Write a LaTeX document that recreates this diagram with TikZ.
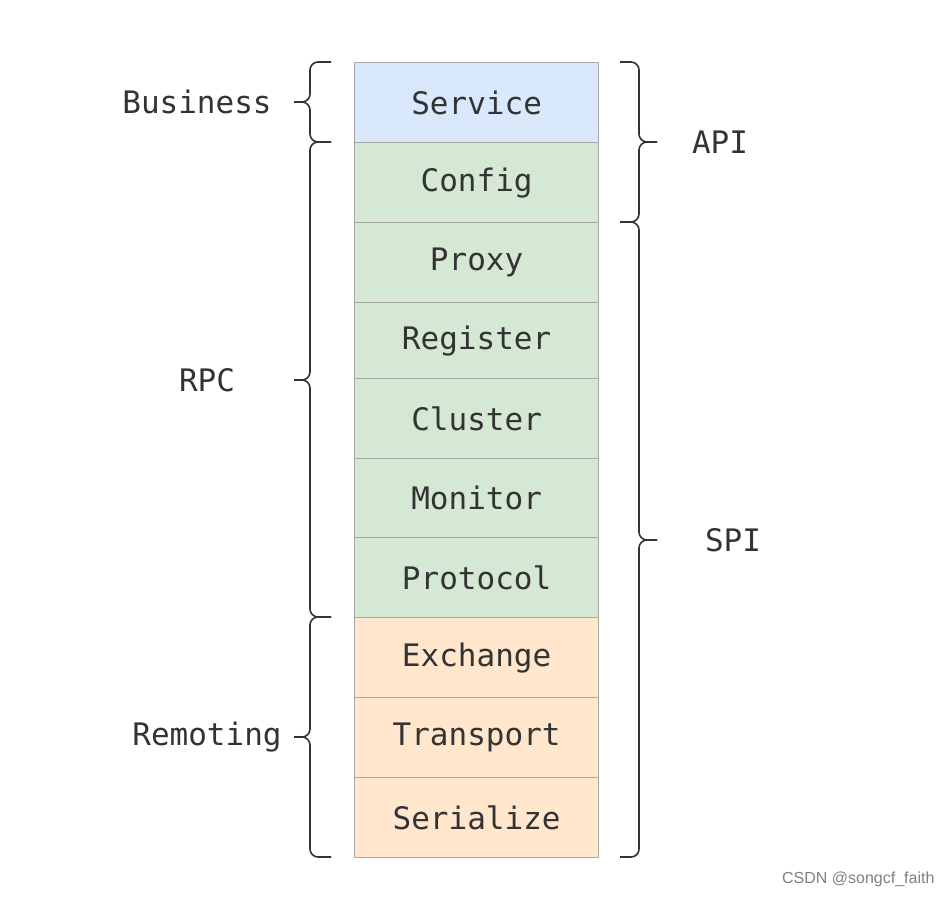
\documentclass[tikz,border=0pt]{standalone}
\usepackage{fontspec}
\setmonofont{DejaVu Sans Mono}
\setsansfont{Liberation Sans}
\definecolor{txt}{HTML}{333333}
\definecolor{bluefill}{HTML}{DAE8FC}
\definecolor{greenfill}{HTML}{D5E8D4}
\definecolor{orangefill}{HTML}{FFE6CC}
\definecolor{edge}{HTML}{A8A8A8}
\tikzset{
  layer/.style={draw=edge, line width=1.2pt, text=txt, font=\ttfamily\fontsize{31}{31}\selectfont,
    minimum width=244pt, inner sep=0pt, anchor=north west},
  grp/.style={text=txt, font=\ttfamily\fontsize{31}{31}\selectfont},
  brc/.style={draw=txt, line width=1.6pt, rounded corners=8pt},
}
% curly brace with square-ish ends: ends at x=#1, spine at x=#2, tip at x=#3,
% running from y=#4 to y=#5 with its point at y=#6
\newcommand{\bracket}[6]{%
  \draw[brc] (#1,#4) -- (#2,#4) -- (#2,#6) -- (#3,#6);
  \draw[brc] (#1,#5) -- (#2,#5) -- (#2,#6) -- (#3,#6);
}
\begin{document}
\begin{tikzpicture}[x=1pt,y=-1pt]
\useasboundingbox (0,0) rectangle (952,898);
% protocol stack, top to bottom
\node[layer, fill=bluefill,   minimum height=80pt] (service)   at (354,62)  {Service};
\node[layer, fill=greenfill,  minimum height=80pt] (config)    at (354,142) {Config};
\node[layer, fill=greenfill,  minimum height=80pt] (proxy)     at (354,222) {Proxy};
\node[layer, fill=greenfill,  minimum height=76pt] (register)  at (354,302) {Register};
\node[layer, fill=greenfill,  minimum height=80pt] (cluster)   at (354,378) {Cluster};
\node[layer, fill=greenfill,  minimum height=79pt] (monitor)   at (354,458) {Monitor};
\node[layer, fill=greenfill,  minimum height=80pt] (protocol)  at (354,537) {Protocol};
\node[layer, fill=orangefill, minimum height=80pt] (exchange)  at (354,617) {Exchange};
\node[layer, fill=orangefill, minimum height=80pt] (transport) at (354,697) {Transport};
\node[layer, fill=orangefill, minimum height=80pt] (serialize) at (354,777) {Serialize};

% left-hand groupings
\bracket{331}{310}{294}{62}{142}{102}
\bracket{331}{310}{294}{142}{617}{380}
\bracket{331}{310}{294}{617}{857}{737}
\node[grp] (business) at (197,102) {Business};
\node[grp] (rpc)      at (207,380) {RPC};
\node[grp] (remoting) at (207,737) {Remoting};

% right-hand groupings
\bracket{620}{639}{657}{62}{222}{142}
\bracket{620}{639}{657}{222}{857}{540}
\node[grp] (api) at (720,142) {API};
\node[grp] (spi) at (733,540) {SPI};

\node[text=gray, font=\sffamily\fontsize{16}{16}\selectfont, anchor=east] (mark) at (938,879) {CSDN @songcf\_faith};
\end{tikzpicture}
\end{document}
